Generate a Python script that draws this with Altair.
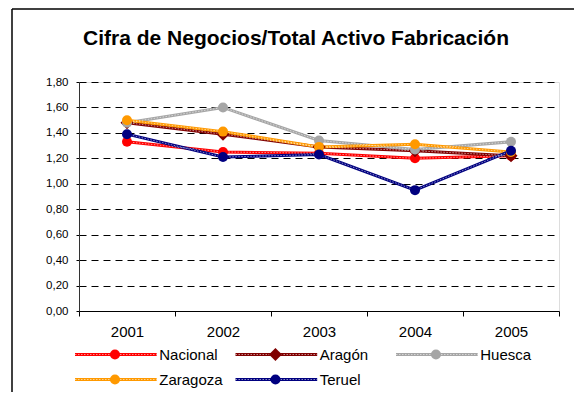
import altair as alt
import pandas as pd

years = ["2001", "2002", "2003", "2004", "2005"]
series = ["Nacional", "Aragón", "Huesca", "Zaragoza", "Teruel"]
nacional = [1.33, 1.25, 1.24, 1.20, 1.22]
aragon = [1.48, 1.39, 1.29, 1.26, 1.22]
huesca = [1.48, 1.60, 1.34, 1.27, 1.33]
zaragoza = [1.50, 1.41, 1.29, 1.31, 1.25]
teruel = [1.39, 1.21, 1.23, 0.95, 1.26]
colors = ["#FF0000", "#800000", "#A6A6A6", "#FF9900", "#000080"]
shapes = ["circle", "diamond", "circle", "circle", "circle"]
y_ticks = [0.0, 0.2, 0.4, 0.6, 0.8, 1.0, 1.2, 1.4, 1.6, 1.8]
title_text = "Cifra de Negocios/Total Activo Fabricación"

FONT = "Liberation Sans"

rows = []
for s, vals in zip(series, [nacional, aragon, huesca, zaragoza, teruel]):
    for y, v in zip(years, vals):
        rows.append({"year": y, "serie": s, "value": v})
df = pd.DataFrame(rows)

color = alt.Color("serie:N", scale=alt.Scale(domain=series, range=colors), legend=None)
shape = alt.Shape("serie:N", scale=alt.Scale(domain=series, range=shapes), legend=None)
size = alt.condition("datum.serie === 'Aragón'", alt.value(170), alt.value(100))

x_scale = alt.Scale(domain=years, paddingInner=0, paddingOuter=0)
y_scale = alt.Scale(domain=[0, 1.8], nice=False, zero=True)

x_axis = alt.Axis(title=None, tickBand="extent", labelFontSize=15, labelFont=FONT,
                  labelColor="#000", labelPadding=8, tickSize=5, tickColor="#000",
                  domainColor="#000", domainWidth=1, grid=False, labelAngle=0)
y_axis = alt.Axis(title=None, values=y_ticks,
                  labelExpr="replace(format(datum.value, '.2f'), '.', ',')",
                  grid=True, gridDash=[7, 5], gridColor="#000", gridWidth=1,
                  tickSize=3, tickColor="#000", labelPadding=8, labelFontSize=11.5,
                  labelFont=FONT, labelColor="#000", domainColor="#333", domainWidth=1)
x_main = alt.X("year:N", sort=years, scale=x_scale, axis=x_axis)
y_main = alt.Y("value:Q", scale=y_scale, axis=y_axis)

base = alt.Chart(df)
lines = base.mark_line(strokeWidth=3).encode(x=x_main, y=y_main, color=color)
texture = base.mark_line(strokeWidth=1, color="white", strokeDash=[1.5, 1.5], opacity=0.55).encode(
    x=x_main, y=y_main, detail="serie:N")
points = base.mark_point(filled=True, opacity=1).encode(
    x=x_main, y=y_main, color=color, shape=shape, size=size)
main = alt.layer(lines, texture, points)

# legend built from the series list
leg = pd.DataFrame({"serie": series,
                    "col": [i % 3 for i in range(len(series))],
                    "row": [i // 3 for i in range(len(series))]})
lx = alt.Scale(domain=[0, 2], range=[-4, 317])
ly = alt.Scale(domain=[0, 1], range=[272.5, 297.5])
legbase = alt.Chart(leg).transform_calculate(
    xe="datum.col + 0.509", xm="datum.col + 0.249", xt="datum.col + 0.525")
leg_line = legbase.mark_rule(strokeWidth=3).encode(
    x=alt.X("col:Q", scale=lx, axis=None), x2="xe:Q",
    y=alt.Y("row:Q", scale=ly, axis=None), color=color)
leg_tex = legbase.mark_rule(strokeWidth=1, color="white", strokeDash=[1.5, 1.5], opacity=0.55).encode(
    x=alt.X("col:Q", scale=lx, axis=None), x2="xe:Q",
    y=alt.Y("row:Q", scale=ly, axis=None))
leg_pt = legbase.mark_point(filled=True, opacity=1).encode(
    x=alt.X("xm:Q", scale=lx, axis=None),
    y=alt.Y("row:Q", scale=ly, axis=None), color=color, shape=shape, size=size)
leg_txt = legbase.mark_text(align="left", baseline="middle", fontSize=15, font=FONT, color="#000").encode(
    x=alt.X("xt:Q", scale=lx, axis=None),
    y=alt.Y("row:Q", scale=ly, axis=None), text="serie:N")
legend = alt.layer(leg_line, leg_tex, leg_pt, leg_txt)

# outer frame of the chart area
fdf = pd.DataFrame({"k": [0]})
frame_left = alt.Chart(fdf).mark_rule(color="#000", strokeWidth=1.5).encode(
    x=alt.value(-67), y=alt.value(-73), y2=alt.value(330))
frame_top = alt.Chart(fdf).mark_rule(color="#000", strokeWidth=1.5).encode(
    x=alt.value(-67), x2=alt.value(520), y=alt.value(-73))
frame = alt.layer(frame_left, frame_top)

chart = alt.layer(main, legend, frame).resolve_scale(
    x="independent", y="independent"
).properties(
    width=480, height=229,
    autosize=alt.AutoSizeParams(type="none"),
    padding={"left": 71, "top": 74, "right": 15, "bottom": 81},
    title=alt.TitleParams(title_text, fontSize=21, font=FONT, fontWeight="bold", color="#000",
                          anchor="middle", dx=-23, offset=-41),
).configure_view(stroke="transparent", strokeWidth=0).configure(font=FONT, background="white")

chart.save("out.html", embed_options={"renderer": "svg", "actions": False})
